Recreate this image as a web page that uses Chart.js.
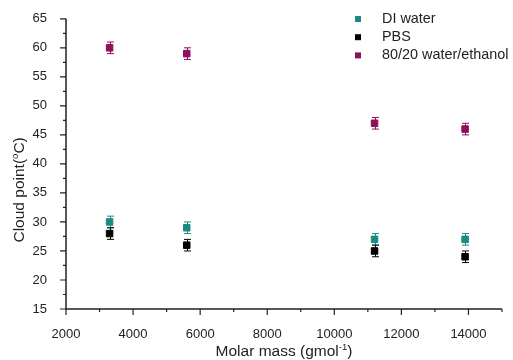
<!DOCTYPE html>
<html>
<head>
<meta charset="utf-8">
<script src="https://cdn.jsdelivr.net/npm/chart.js@4.4.1/dist/chart.umd.min.js"></script>
<style>
  html, body { margin: 0; padding: 0; background: #fff; }
  #wrap { width: 513px; height: 360px; }
</style>
</head>
<body>
<div id="wrap"><canvas id="chart" width="513" height="360"></canvas></div>
<script>
// data
var molarMass = [3300, 5600, 11200, 13900];
var diWater = [30, 29, 27, 27];
var pbs = [28, 26, 25, 24];
var waterEthanol = [60, 59, 47, 46];
var diErr = [1, 1, 1, 1];
var pbsErr = [1, 1, 1, 1];
var ethErr = [1, 1, 1, 1];

var seriesLabels = ['DI water', 'PBS', '80/20 water/ethanol'];
var seriesColors = ['#1b8a85', '#000000', '#8e0f5e'];

var xTickLabels = [2000, 4000, 6000, 8000, 10000, 12000, 14000];
var yTickLabels = [15, 20, 25, 30, 35, 40, 45, 50, 55, 60, 65];

var FONT = '"Liberation Sans", Arial, sans-serif';
var INK = '#222';

function toPoints( ys ) {
	return ys.map( function ( y, i ) { return { x: molarMass[ i ], y: y }; } );
}

function makeSet( i, ys, errs ) {
	return {
		label: seriesLabels[ i ],
		data: toPoints( ys ),
		errors: errs,
		pointStyle: 'rect',
		pointRadius: 4.6,
		pointHoverRadius: 4.6,
		pointBorderWidth: 1,
		backgroundColor: seriesColors[ i ],
		borderColor: seriesColors[ i ],
		showLine: false
	};
}

// error bars, drawn from the same scales as the points
var errorBars = {
	id: 'errorBars',
	afterDatasetsDraw: function ( chart ) {
		var ctx = chart.ctx;
		var xs = chart.scales.x, ys = chart.scales.y;
		ctx.save();
		chart.data.datasets.forEach( function ( ds ) {
			ctx.strokeStyle = ds.borderColor;
			ctx.lineWidth = 1;
			ds.data.forEach( function ( p, j ) {
				var e = ds.errors[ j ];
				var px = Math.round( xs.getPixelForValue( p.x ) ) + 0.5;
				var top = ys.getPixelForValue( p.y + e );
				var bot = ys.getPixelForValue( p.y - e );
				ctx.beginPath();
				ctx.moveTo( px, top ); ctx.lineTo( px, bot );
				ctx.moveTo( px - 3.5, top ); ctx.lineTo( px + 3.5, top );
				ctx.moveTo( px - 3.5, bot ); ctx.lineTo( px + 3.5, bot );
				ctx.stroke();
			} );
		} );
		ctx.restore();
	}
};

// left and bottom axis lines with outward major/minor ticks
var axesFrame = {
	id: 'axesFrame',
	beforeDatasetsDraw: function ( chart ) {
		var ctx = chart.ctx, a = chart.chartArea;
		var xs = chart.scales.x, ys = chart.scales.y;
		ctx.save();
		ctx.strokeStyle = INK;
		ctx.lineWidth = 1.5;
		ctx.beginPath();
		ctx.moveTo( a.left, a.top ); ctx.lineTo( a.left, a.bottom ); ctx.lineTo( a.right, a.bottom );
		ctx.stroke();
		ctx.lineWidth = 1.2;
		ctx.beginPath();
		xs.ticks.forEach( function ( t ) {
			var px = xs.getPixelForValue( t.value );
			var len = xTickLabels.indexOf( t.value ) >= 0 ? 6 : 3;
			ctx.moveTo( px, a.bottom ); ctx.lineTo( px, a.bottom + len );
		} );
		ys.ticks.forEach( function ( t ) {
			var py = ys.getPixelForValue( t.value );
			var len = yTickLabels.indexOf( t.value ) >= 0 ? 6 : 3;
			ctx.moveTo( a.left, py ); ctx.lineTo( a.left - len, py );
		} );
		ctx.stroke();
		ctx.restore();
	}
};

// draws text pieces, some raised as superscripts
function richWidth( ctx, parts, size ) {
	var w = 0;
	parts.forEach( function ( p ) {
		ctx.font = ( p.sup ? size * 0.62 : size ) + 'px ' + FONT;
		w += ctx.measureText( p.t ).width;
	} );
	return w;
}
function drawRich( ctx, parts, size, x, y ) {
	var w = richWidth( ctx, parts, size );
	var cx = x - w / 2;
	ctx.textBaseline = 'middle';
	ctx.textAlign = 'left';
	parts.forEach( function ( p ) {
		ctx.font = ( p.sup ? size * 0.62 : size ) + 'px ' + FONT;
		ctx.fillText( p.t, cx, p.sup ? y - size * 0.32 : y );
		cx += ctx.measureText( p.t ).width;
	} );
}

var axisTitles = {
	id: 'axisTitles',
	afterDraw: function ( chart ) {
		var ctx = chart.ctx, a = chart.chartArea;
		ctx.save();
		ctx.fillStyle = INK;
		drawRich( ctx, [ { t: 'Molar mass (gmol' }, { t: '-1', sup: true }, { t: ')' } ], 15.5, ( a.left + a.right ) / 2, 352 );
		ctx.translate( 20, ( a.top + a.bottom ) / 2 + 26 );
		ctx.rotate( -Math.PI / 2 );
		drawRich( ctx, [ { t: 'Cloud point(' }, { t: 'o', sup: true }, { t: 'C)' } ], 15.5, 0, 0 );
		ctx.restore();
	}
};

// legend inside the plot, top right
var insideLegend = {
	id: 'insideLegend',
	afterDraw: function ( chart ) {
		var ctx = chart.ctx;
		ctx.save();
		ctx.font = '14.4px ' + FONT;
		ctx.textBaseline = 'middle';
		ctx.textAlign = 'left';
		chart.data.datasets.forEach( function ( ds, i ) {
			var y = 19 + i * 18.2;
			ctx.fillStyle = ds.backgroundColor;
			ctx.fillRect( 355, y - 3, 6, 6 );
			ctx.fillStyle = INK;
			ctx.fillText( ds.label, 382, y );
		} );
		ctx.restore();
	}
};

new Chart( document.getElementById( 'chart' ), {
	type: 'scatter',
	data: {
		datasets: [
			makeSet( 0, diWater, diErr ),
			makeSet( 1, pbs, pbsErr ),
			makeSet( 2, waterEthanol, ethErr )
		]
	},
	options: {
		responsive: false,
		animation: false,
		devicePixelRatio: 1,
		layout: { padding: { left: 0, top: 17, right: 11, bottom: 0 } },
		plugins: {
			legend: { display: false },
			tooltip: { enabled: false }
		},
		scales: {
			x: {
				type: 'linear',
				min: 2000,
				max: 15000,
				grid: { display: false },
				border: { display: false },
				afterFit: function ( s ) { s.height = 51; },
				ticks: {
					stepSize: 1000,
					autoSkip: false,
					maxRotation: 0,
					padding: 10,
					color: INK,
					font: { family: FONT, size: 13 },
					callback: function ( v ) { return xTickLabels.indexOf( v ) >= 0 ? String( v ) : ''; }
				}
			},
			y: {
				type: 'linear',
				min: 15,
				max: 65,
				grid: { display: false },
				border: { display: false },
				afterFit: function ( s ) { s.width = 66; },
				ticks: {
					stepSize: 2.5,
					autoSkip: false,
					padding: 11,
					color: INK,
					font: { family: FONT, size: 13 },
					callback: function ( v ) { return yTickLabels.indexOf( v ) >= 0 ? String( v ) : ''; }
				}
			}
		}
	},
	plugins: [ axesFrame, errorBars, axisTitles, insideLegend ]
} );
</script>
</body>
</html>
